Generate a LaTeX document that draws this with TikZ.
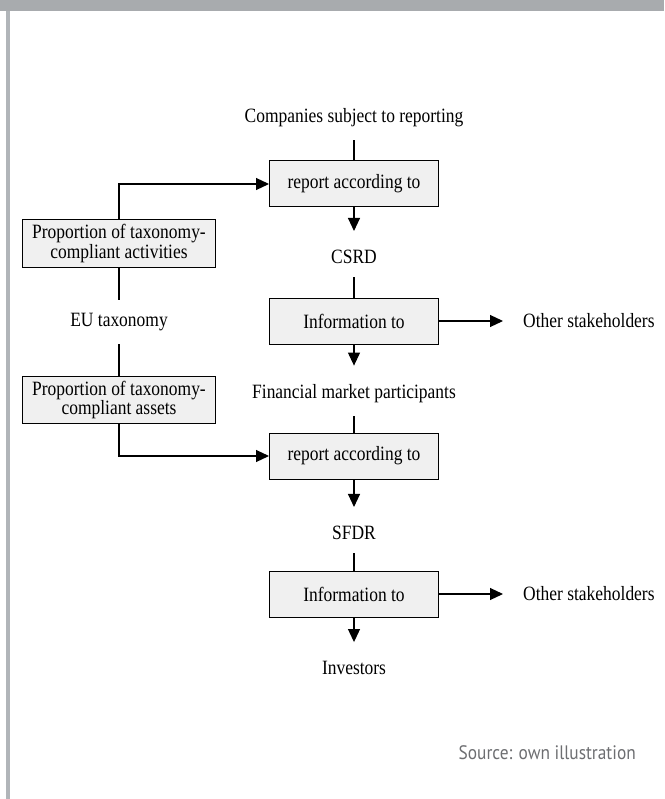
\documentclass[tikz,border=0pt]{standalone}
\usepackage{fontspec}
\setmainfont[FakeStretch=0.86]{Liberation Serif}
\newfontfamily\srcfont[FakeStretch=0.89]{PT Sans}
\usepackage{tikz}
\usetikzlibrary{shapes,arrows.meta,positioning,calc}
\definecolor{hdrgray}{HTML}{A8ABAE}
\definecolor{bargray}{HTML}{B1B5B9}
\definecolor{srcgray}{HTML}{6D6E71}
\definecolor{boxfill}{HTML}{F0F0F0}

\begin{document}
\begin{tikzpicture}[x=1pt,y=-1pt,
		font=\fontsize{20.3}{19.5}\selectfont,
		stepbox/.style={draw,line width=1pt,fill=boxfill,minimum width=169pt,minimum height=46pt,inner sep=0pt},
		sidebox/.style={stepbox,minimum width=193pt,minimum height=47pt,align=center},
		lbl/.style={inner xsep=2pt,inner ysep=13pt},
		link/.style={line width=1.1pt},
		arr/.style={link,-{Triangle[length=13pt,width=12pt]}}]
					\useasboundingbox (0,0) rectangle (664,799);
					\fill[hdrgray] (0,0) rectangle (664,11);
					\fill[bargray] (6,11) rectangle (10,799);
					
					% Reporting chain
					\node[lbl] (comp) at (354,118) {Companies subject to reporting};
					\node[stepbox] (rep1) at (354,184) {report according to};
					\node[lbl] (csrd) at (354,257) {CSRD};
					\node[stepbox] (info1) at (354,321) {Information to};
					\node[lbl,anchor=west,inner xsep=20pt] (other1) at (503,321) {Other stakeholders};
					\node[lbl] (fmp) at (354,394) {Financial market participants};
					\node[stepbox] (rep2) at (354,456) {report according to};
					\node[lbl] (sfdr) at (354,533) {SFDR};
					\node[stepbox] (info2) at (354,594) {Information to};
					\node[lbl,anchor=west,inner xsep=20pt] (other2) at (503,594) {Other stakeholders};
					\node[lbl] (inv) at (354,668) {Investors};
					
					\draw[link] (comp) -- (rep1);
					\draw[arr,shorten >=6pt] (rep1) -- (csrd);
					\draw[link] (csrd) -- (info1);
					\draw[arr] (info1) -- (other1);
					\draw[arr,shorten >=6pt] (info1) -- (fmp);
					\draw[link] (fmp) -- (rep2);
					\draw[arr,shorten >=6pt] (rep2) -- (sfdr);
					\draw[link] (sfdr) -- (info2);
					\draw[arr] (info2) -- (other2);
					\draw[arr,shorten >=6pt] (info2) -- (inv);
					
					% Taxonomy
					\node[sidebox] (propa) at (119,243.5) {Proportion of taxonomy-\\compliant activities};
					\node[lbl] (eu) at (119,322) {EU taxonomy};
					\node[sidebox] (propb) at (119,400) {Proportion of taxonomy-\\compliant assets};
					
					\draw[arr] (propa) |- (rep1);
					\draw[link] (propa) -- (eu);
					\draw[link] (eu) -- (propb);
					\draw[arr] (propb) |- (rep2);
					
					\node[font=\srcfont\fontsize{19.5}{22}\selectfont,text=srcgray,anchor=east,inner sep=0pt] (src) at (636,753) {Source: own illustration};
				\end{tikzpicture}
\end{document}
